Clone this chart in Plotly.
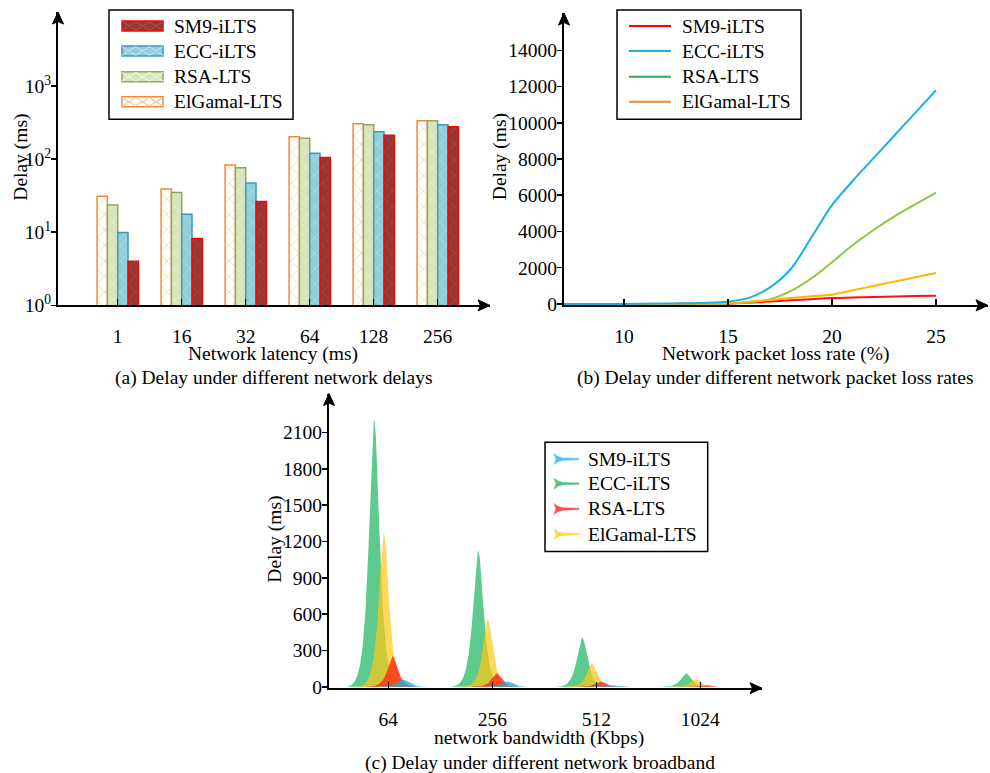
import numpy as np
import plotly.graph_objects as go

W, H = 990, 773          # reference pixel frame used for placement
FIG_H = 785              # rendered figure height (photo is fitted to 773)
FONT = "Liberation Serif"
FS = 19.5

# ---------------- data ----------------
# (a) delay vs network latency (log scale)
latency_labels = ["1", "16", "32", "64", "128", "256"]
a_elgamal = [31, 39, 83, 202, 305, 335]
a_rsa = [23.5, 35, 76, 192, 295, 335]
a_ecc = [9.9, 17.6, 47, 120, 237, 295]
a_sm9 = [4.0, 8.2, 26.3, 105, 211, 277]

# (b) delay vs packet loss rate
loss_rate = [7, 10, 12, 14, 15, 16, 17, 18, 19, 20, 21, 22, 23, 24, 25]
b_sm9 = [0, 0, 0, 5, 10, 60, 130, 200, 260, 320, 350, 380, 405, 430, 453]
b_ecc = [0, 0, 20, 60, 130, 330, 900, 1900, 3650, 5450, 6800, 8050, 9300, 10550, 11800]
b_rsa = [0, 0, 0, 5, 20, 80, 250, 700, 1400, 2300, 3250, 4080, 4830, 5500, 6150]
b_elgamal = [0, 0, 0, 10, 30, 120, 220, 320, 420, 510, 750, 990, 1230, 1470, 1710]

# (c) delay vs network bandwidth
bandwidth_labels = ["64", "256", "512", "1024"]
c_sm9 = [60, 44, 13, 6]
c_ecc = [2198, 1122, 406, 111]
c_rsa = [252, 111, 45, 15]
c_elgamal = [1262, 552, 194, 65]

series_names = ["SM9-iLTS", "ECC-iLTS", "RSA-LTS", "ElGamal-LTS"]


def px(x):
    return x / W


def py(y):
    return 1 - y / H


def path(points, close=True):
    s = "M" + " L".join(f"{px(x):.5f},{py(y):.5f}" for x, y in points)
    return s + (" Z" if close else "")


fig = go.Figure()

# ---------------- (a) grouped bars ----------------
bar_styles = {
    "ElGamal-LTS": dict(bg="#FFFFFF", fg="#F9C9A2", line="#F28A3C"),
    "RSA-LTS": dict(bg="#D7E4BD", fg="#EAF1DD", line="#8CAB5C"),
    "ECC-iLTS": dict(bg="#92CDDC", fg="#B9E0EA", line="#3D9BB8"),
    "SM9-iLTS": dict(bg="#953735", fg="#B04A48", line="#FF0000"),
}
for name, vals in [("ElGamal-LTS", a_elgamal), ("RSA-LTS", a_rsa),
                   ("ECC-iLTS", a_ecc), ("SM9-iLTS", a_sm9)]:
    st = bar_styles[name]
    fig.add_trace(go.Bar(
        x=latency_labels, y=vals, name=name, showlegend=False,
        marker=dict(color=st["bg"],
                    line=dict(color=st["line"], width=1.5),
                    pattern=dict(shape="x", size=11, solidity=0.12,
                                 fgcolor=st["fg"], bgcolor=st["bg"],
                                 fillmode="replace")),
        xaxis="x", yaxis="y",
    ))

# ---------------- (b) lines ----------------
curve_colors = {"SM9-iLTS": "#FF1010", "ECC-iLTS": "#17B1E8",
                "RSA-LTS": "#8DC63F", "ElGamal-LTS": "#FFB400"}
legend_b_colors = {"SM9-iLTS": "#FF0000", "ECC-iLTS": "#1EAEE6",
                   "RSA-LTS": "#2DAA55", "ElGamal-LTS": "#F08C28"}
for name, vals in [("SM9-iLTS", b_sm9), ("RSA-LTS", b_rsa),
                   ("ElGamal-LTS", b_elgamal), ("ECC-iLTS", b_ecc)]:
    fig.add_trace(go.Scatter(
        x=loss_rate, y=vals, mode="lines", name=name, showlegend=False,
        line=dict(color=curve_colors[name], width=2, shape="spline", smoothing=0.9),
        xaxis="x2", yaxis="y2",
    ))

# ---------------- (c) peaks ----------------
peak_fill = {"ECC-iLTS": "rgba(70,196,125,0.88)",
             "ElGamal-LTS": "rgba(255,200,20,0.70)",
             "RSA-LTS": "rgba(255,50,20,0.85)",
             "SM9-iLTS": "rgba(40,165,225,0.78)"}
peak_offset = {"ECC-iLTS": -0.135, "ElGamal-LTS": -0.042,
               "RSA-LTS": 0.042, "SM9-iLTS": 0.142}
peak_width = {"ECC-iLTS": 0.068, "ElGamal-LTS": 0.064,
              "RSA-LTS": 0.066, "SM9-iLTS": 0.09}
grid = np.linspace(-0.26, 0.26, 209)
for name, vals in [("ECC-iLTS", c_ecc), ("ElGamal-LTS", c_elgamal),
                   ("RSA-LTS", c_rsa), ("SM9-iLTS", c_sm9)]:
    xs, ys = [], []
    w = peak_width[name]
    prof = 1.0 / (1.0 + (grid / w) ** 2) * np.exp(-(grid / 0.15) ** 2)
    prof = prof - prof[0]
    prof = prof / prof.max()
    for i, h in enumerate(vals):
        xs.extend((i + peak_offset[name] + grid).tolist())
        ys.extend((h * prof).tolist())
    fig.add_trace(go.Scatter(
        x=xs, y=ys, mode="lines", line=dict(width=0, color=peak_fill[name]),
        fill="tozeroy", fillcolor=peak_fill[name], showlegend=False,
        name=name, xaxis="x3", yaxis="y3", hoverinfo="skip",
    ))

# ---------------- layout ----------------
tickfont = dict(family=FONT, size=FS, color="black")
axis_common = dict(showline=True, linecolor="black", linewidth=2,
                   showgrid=False, zeroline=False, tickfont=tickfont,
                   tickcolor="black", tickwidth=1.5)

fig.update_layout(
    width=W, height=FIG_H, margin=dict(l=0, r=0, t=0, b=0),
    plot_bgcolor="white", paper_bgcolor="white", showlegend=False,
    font=dict(family=FONT, size=FS, color="black"),
    barmode="group", bargap=0.355, bargroupgap=0,
    xaxis=dict(domain=[px(58), px(490)], anchor="y", type="category",
               range=[-0.933, 5.817], ticks="inside", ticklen=6,
               ticklabelstandoff=12, **axis_common),
    yaxis=dict(domain=[py(305), py(12)], anchor="x", type="log",
               range=[0, 4.01], tickvals=[1, 10, 100, 1000],
               ticktext=["10<sup>0</sup>", "10<sup>1</sup>", "10<sup>2</sup>", "10<sup>3</sup>"],
               ticks="outside", ticklen=5, ticklabelstandoff=-4, **axis_common),
    xaxis2=dict(domain=[px(564), px(988)], anchor="y2", range=[7.115, 27.5],
                tickvals=[10, 15, 20, 25], ticks="inside", ticklen=6,
                ticklabelstandoff=12, **axis_common),
    yaxis2=dict(domain=[py(305), py(13)], anchor="x2", range=[-83, 16063],
                tickvals=list(range(0, 14001, 2000)), tickformat="d",
                ticks="outside", ticklen=5, ticklabelstandoff=-4, **axis_common),
    xaxis3=dict(domain=[px(329), px(762)], anchor="y3", range=[-0.57, 3.593],
                tickvals=[0, 1, 2, 3], ticktext=bandwidth_labels,
                ticks="inside", ticklen=6, ticklabelstandoff=12, **axis_common),
    yaxis3=dict(domain=[py(687.3), py(393)], anchor="x3", range=[-11, 2421],
                tickvals=list(range(0, 2101, 300)), tickformat="d",
                ticks="outside", ticklen=5, ticklabelstandoff=-4, **axis_common),
)

shapes = []

# axis arrowheads
for (xa, ya, d) in [(58, 12, "up"), (490, 305, "right"),
                    (564, 13, "up"), (988, 305, "right"),
                    (329, 393, "up"), (762, 687.3, "right")]:
    if d == "up":
        pts = [(xa, ya), (xa - 5.5, ya + 12), (xa, ya + 9.5), (xa + 5.5, ya + 12)]
    else:
        pts = [(xa, ya), (xa - 12, ya - 5.5), (xa - 9.5, ya), (xa - 12, ya + 5.5)]
    shapes.append(dict(type="path", xref="paper", yref="paper", path=path(pts),
                       fillcolor="black", line=dict(color="black", width=1), layer="above"))


def legend_box(x0, y0, x1, y1):
    shapes.append(dict(type="rect", xref="paper", yref="paper",
                       x0=px(x0), x1=px(x1), y0=py(y1), y1=py(y0),
                       line=dict(color="black", width=1.5), fillcolor="white",
                       layer="above"))


def legend_text(t, x, y):
    fig.add_annotation(x=px(x), y=py(y), xref="paper", yref="paper", text=t,
                       showarrow=False, xanchor="left", yanchor="middle",
                       font=dict(family=FONT, size=FS, color="black"))


# legend (a): hatched patches
legend_box(109, 10, 293, 119)
rows_a = [26, 51, 76.7, 101.7]
for name, yc in zip(series_names, rows_a):
    st = bar_styles[name]
    x0, x1 = 122, 163
    shapes.append(dict(type="rect", xref="paper", yref="paper",
                       x0=px(x0), x1=px(x1), y0=py(yc + 5), y1=py(yc - 5),
                       fillcolor=st["bg"], line=dict(color=st["line"], width=1.5),
                       layer="above"))
    cw = (x1 - x0) / 3
    hatch = ""
    for k in range(3):
        xa, xb = x0 + k * cw, x0 + (k + 1) * cw
        hatch += path([(xa, yc - 4.2), (xb, yc + 4.2)], close=False) + " "
        hatch += path([(xa, yc + 4.2), (xb, yc - 4.2)], close=False) + " "
    shapes.append(dict(type="path", xref="paper", yref="paper", path=hatch.strip(),
                       line=dict(color=st["fg"], width=1.2), layer="above"))
    legend_text(name, 172, yc)

# legend (b): lines
legend_box(617, 10, 801, 119)
for name, yc in zip(series_names, rows_a):
    shapes.append(dict(type="line", xref="paper", yref="paper",
                       x0=px(629), x1=px(671), y0=py(yc), y1=py(yc),
                       line=dict(color=legend_b_colors[name], width=2), layer="above"))
    legend_text(name, 680, yc)

# legend (c): sideways peak glyphs
legend_c_colors = {"SM9-iLTS": "#4FC3F7", "ECC-iLTS": "#4CC27A",
                   "RSA-LTS": "#F44E4E", "ElGamal-LTS": "#FFD54F"}
legend_box(545, 441.7, 707.7, 550.7)
rows_c = [458.5, 483, 508.3, 533.5]
for name, yc in zip(series_names, rows_c):
    x0 = 554
    pts = [(x0, yc - 5.5), (x0 + 4, yc - 2.5), (x0 + 9, yc - 1.2), (x0 + 25, yc - 0.6),
           (x0 + 25, yc + 0.6), (x0 + 9, yc + 1.2), (x0 + 4, yc + 2.5), (x0, yc + 5.5),
           (x0 + 2, yc)]
    shapes.append(dict(type="path", xref="paper", yref="paper", path=path(pts),
                       fillcolor=legend_c_colors[name],
                       line=dict(color=legend_c_colors[name], width=0.5), layer="above"))
    legend_text(name, 586, yc)

fig.update_layout(shapes=shapes)

# titles & captions
texts = [
    ("Delay (ms)", 21.5, 157, -90),
    ("Delay (ms)", 500, 157, -90),
    ("Delay (ms)", 275, 539, -90),
    ("Network latency (ms)", 273, 354, 0),
    ("Network packet loss rate (%)", 775, 354, 0),
    ("network bandwidth (Kbps)", 539, 737, 0),
    ("(a) Delay under different network delays", 273, 378, 0),
    ("(b) Delay under different network packet loss rates", 775, 378, 0),
    ("(c) Delay under different network broadband", 540, 762, 0),
]
for t, xx, yy, ang in texts:
    fig.add_annotation(x=px(xx), y=py(yy), xref="paper", yref="paper", text=t,
                       showarrow=False, textangle=ang, xanchor="center",
                       yanchor="middle", font=dict(family=FONT, size=FS, color="black"))

fig.write_html(
    "out.html",
    config={"displayModeBar": False, "staticPlot": True},
    post_script=(
        "document.documentElement.style.margin='0';"
        "document.documentElement.style.padding='0';"
        "document.body.style.margin='0';"
        "document.body.style.padding='0';"
        "var d=document.getElementById('{plot_id}');"
        "d.style.position='absolute';d.style.left='0px';d.style.top='0px';"
    ),
)
